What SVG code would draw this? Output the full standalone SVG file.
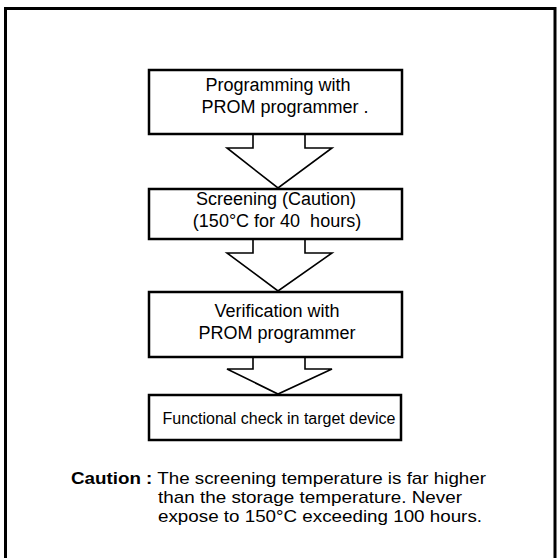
<svg xmlns="http://www.w3.org/2000/svg" width="560" height="558" viewBox="0 0 560 558">
<style>
.box{fill:#fff;stroke:#000;stroke-width:2.5}
.arr{fill:#fff;stroke:#000;stroke-width:1.6;stroke-linejoin:miter}
.t{font-family:"Liberation Sans",Arial,sans-serif;font-size:18px;fill:#000;text-anchor:middle}
.c{font-family:"Liberation Sans",Arial,sans-serif;font-size:17px;fill:#000}
</style>
<rect width="560" height="558" fill="#fff"/>
<path d="M5.5,560 V8.5 H555 V560" fill="none" stroke="#000" stroke-width="3"/>
<g id="connectors">
<polygon class="arr" points="253,134 253,148 227,148 278,188 332,148 305,148 305,134"/>
<polygon class="arr" points="253,239 253,253 227,253 278,291 332,253 305,253 305,239"/>
<polygon class="arr" points="253,357 253,369 227,369 278,394 332,369 305,369 305,357"/>
</g>
<g id="n1">
<rect class="box" x="149" y="70" width="253" height="64"/>
<text class="t" x="278" y="91">Programming with</text>
<text class="t" x="285" y="113">PROM programmer .</text>
</g>
<g id="n2">
<rect class="box" x="149" y="189" width="253" height="50"/>
<text class="t" x="276" y="205">Screening (Caution)</text>
<text class="t" x="277" y="227" xml:space="preserve">(150°C for 40  hours)</text>
</g>
<g id="n3">
<rect class="box" x="149" y="292" width="253" height="65"/>
<text class="t" x="277" y="317">Verification with</text>
<text class="t" x="277" y="339">PROM programmer</text>
</g>
<g id="n4">
<rect class="box" x="149" y="395" width="252" height="45"/>
<text class="t" x="279" y="424" style="font-size:16px">Functional check in target device</text>
</g>
<g id="caution">
<text class="c" x="71" y="484" textLength="415" lengthAdjust="spacingAndGlyphs"><tspan font-weight="bold">Caution :</tspan> The screening temperature is far higher</text>
<text class="c" x="158" y="503" textLength="304" lengthAdjust="spacingAndGlyphs">than the storage temperature. Never</text>
<text class="c" x="158" y="522" textLength="324" lengthAdjust="spacingAndGlyphs">expose to 150°C exceeding 100 hours.</text>
</g>
</svg>
